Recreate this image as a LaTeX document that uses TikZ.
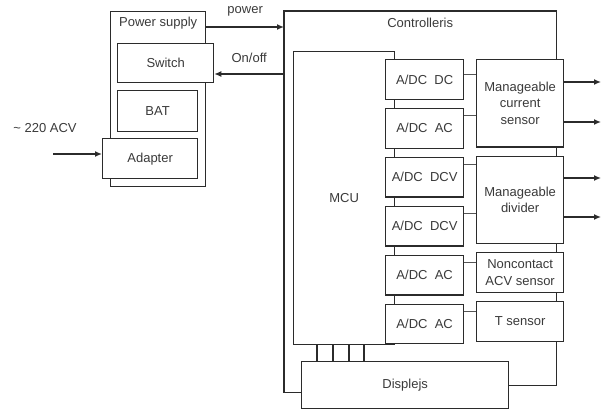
\documentclass[tikz,border=0pt]{standalone}
\usepackage{fontspec}
\setmainfont{Liberation Sans}
\usetikzlibrary{positioning,calc,arrows.meta}
\definecolor{DiagLine}{HTML}{2B2B2B}
\definecolor{DiagThin}{HTML}{555555}
\definecolor{DiagText}{HTML}{3A3A3A}

\begin{document}
\begin{tikzpicture}[
    x=1pt, y=-1pt,
    node distance=8pt,
    every node/.style={font=\fontsize{13}{16.5}\selectfont, text=DiagText},
    box/.style={draw=DiagLine, fill=white, line width=1.3pt, inner sep=0pt,
      align=center, anchor=north west},
    adc/.style={box, minimum width=78pt, minimum height=39.6pt},
    sensor/.style={box, minimum width=87pt, minimum height=39.6pt},
    wire/.style={line width=1.3pt, draw=DiagLine},
    thinwire/.style={line width=0.9pt, draw=DiagThin},
    arrow/.style={wire, -{Latex[length=7pt,width=6pt]}}
  ]
    \useasboundingbox (0,0) rectangle (602,409);
    \node[box, minimum width=95pt, minimum height=175pt] (ps) at (110,11) {};
    \node at ([yshift=-12pt]ps.north) {Power supply};
    \node[box, minimum width=96pt, minimum height=39pt] (sw) at (117,43) {Switch};
    \node[box, minimum width=80pt, minimum height=41pt] (bat) at (117,90) {BAT};
    \node[box, minimum width=95pt, minimum height=40pt] (adp) at (102,138) {Adapter};
    \node[box, minimum width=207pt, minimum height=47pt] (disp) at (301,361) {Displejs};
    \node[inner sep=0pt, minimum width=272pt, minimum height=381pt, anchor=north west] (ctrl) at (284,11) {};
    \draw[wire] (disp.west |- ctrl.south) -- (ctrl.south west) |- (ctrl.north east) |- (disp.east);
    \node at ([yshift=-12pt]ctrl.north) {Controlleris};
    \node[box, minimum width=101pt, minimum height=293pt] (mcu) at (293,51) {MCU};
    \node[adc] (adc1) at (385,59) {A/DC\ \ DC};
    \node[adc, below=of adc1] (adc2) {A/DC\ \ AC};
    \node[adc, below=of adc2] (adc3) {A/DC\ \ DCV};
    \node[adc, below=of adc3] (adc4) {A/DC\ \ DCV};
    \node[adc, below=of adc4] (adc5) {A/DC\ \ AC};
    \node[adc, below=of adc5] (adc6) {A/DC\ \ AC};
    \node[sensor, minimum height=87.2pt] (cur) at (476,59) {Manageable\\current\\sensor};
    \node[sensor, minimum height=87.2pt, below=of cur] (div) {Manageable\\divider};
    \node[sensor, below=of div] (nc) {Noncontact\\ACV sensor};
    \node[sensor, below=of nc] (ts) {T sensor};
    \coordinate (c1) at ([yshift=-15pt]adc1.north east);
    \draw[thinwire] (c1) -- (c1 -| cur.west);
    \foreach \a/\s in {adc2/cur, adc3/div, adc4/div, adc5/nc, adc6/ts} {
      \coordinate (cc) at ([yshift=-7.5pt]\a.north east);
      \draw[thinwire] (cc) -- (cc -| \s.west);
    }
    \foreach \dx in {24,40,56,71} {
      \coordinate (bus) at ([xshift=\dx pt]mcu.south west);
      \draw[wire, line width=1.1pt] (bus) -- (bus |- disp.north);
    }
    \coordinate (pw) at ([yshift=-16pt]ps.north east);
    \draw[arrow] (pw) -- node[yshift=16pt] {power} (pw -| ctrl.west);
    \coordinate (oo) at ([yshift=-63pt]ctrl.north west);
    \draw[arrow] (oo) -- node[yshift=16pt] {On/off} (oo -| sw.east);
    \coordinate (ac) at (53,154);
    \node at (45,128) {\textasciitilde\ 220 ACV};
    \draw[arrow] (ac) -- (ac -| adp.west);
    \coordinate (o1) at (601,82);
    \coordinate (o2) at (601,122);
    \coordinate (o3) at (601,178);
    \coordinate (o4) at (601,217);
    \draw[arrow] (cur.east |- o1) -- (o1);
    \draw[arrow] (cur.east |- o2) -- (o2);
    \draw[arrow] (div.east |- o3) -- (o3);
    \draw[arrow] (div.east |- o4) -- (o4);
  \end{tikzpicture}
\end{document}
